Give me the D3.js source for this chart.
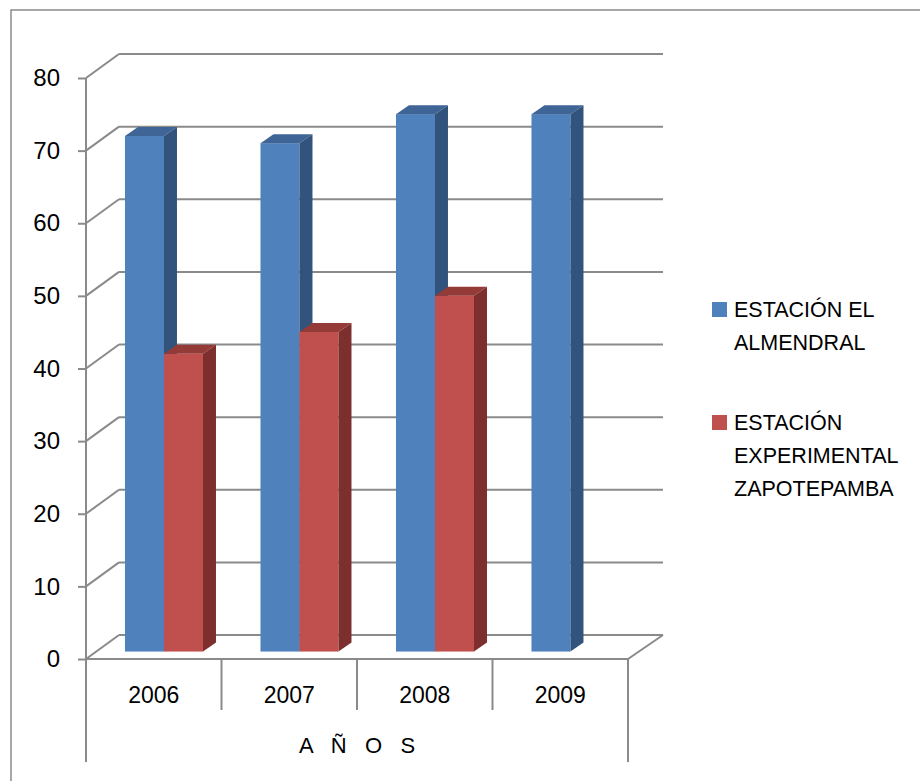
<!DOCTYPE html>
<html>
<head>
<meta charset="utf-8">
<script src="https://cdn.jsdelivr.net/npm/d3@7"></script>
<style>
  html, body { margin: 0; padding: 0; background: #fff; }
  svg { display: block; }
  text { font-family: "Liberation Sans", Arial, sans-serif; fill: #000; }
</style>
</head>
<body>
<svg id="chart" width="920" height="781"></svg>
<script>
// Data
const years = ["2006", "2007", "2008", "2009"];
const seriesNames = ["ESTACIÓN EL ALMENDRAL", "ESTACIÓN EXPERIMENTAL ZAPOTEPAMBA"];
const almendral = [71, 70, 74, 74];
const zapotepamba = [41, 44, 49, null];
const yTicks = [0, 10, 20, 30, 40, 50, 60, 70, 80];
const axisTitle = "A   Ñ   O   S";
const legendLines = [["ESTACIÓN EL", "ALMENDRAL"], ["ESTACIÓN", "EXPERIMENTAL", "ZAPOTEPAMBA"]];

const svg = d3.select("#chart");
const grid = "#8a8a8a";

// 3-D geometry: floor depth shift and bar depth
const wallDX = 33, wallDY = -24;
const barDepth = 0.31;                 // bars sit this far into the floor
const sideDX = 13, sideDY = -9;        // bar thickness

const x0 = d3.scaleBand().domain(years).range([86, 628]);
const x1 = d3.scaleBand().domain(seriesNames).range([0, 78]);
const yFront = d3.scaleLinear().domain([0, 80]).range([659, 78]);
const yBack = d3.scaleLinear().domain([0, 80]).range([659 + wallDY, 78 + wallDY]);
const yBar = d3.scaleLinear().domain([0, 80]).range([659 + wallDY * barDepth, 78 + wallDY * barDepth]);
const color = d3.scaleOrdinal().domain(seriesNames).range(["#4f81bd", "#c0504d"]);
const topColor = d3.scaleOrdinal().domain(seriesNames).range(["#3e6595", "#943a37"]);
const sideColor = d3.scaleOrdinal().domain(seriesNames).range(["#32537c", "#7c2f2d"]);

// Outer frame
svg.append("path").attr("d", "M11,781 V10 H920")
  .attr("fill", "none").attr("stroke", grid).attr("stroke-width", 1.5);

const backRight = x0.range()[1] + wallDX + 2;

// Back wall gridlines and left-wall diagonals
const walls = svg.append("g").attr("stroke", grid).attr("stroke-width", 2).attr("fill", "none");
yTicks.forEach(v => {
  walls.append("line")
    .attr("x1", x0.range()[0] + wallDX).attr("x2", backRight)
    .attr("y1", yBack(v)).attr("y2", yBack(v));
  walls.append("line")
    .attr("x1", x0.range()[0]).attr("y1", yFront(v))
    .attr("x2", x0.range()[0] + wallDX).attr("y2", yBack(v));
});
// Floor front edge and right diagonal
walls.append("line").attr("x1", x0.range()[0]).attr("x2", x0.range()[1])
  .attr("y1", yFront(0)).attr("y2", yFront(0));
walls.append("line").attr("x1", x0.range()[1]).attr("y1", yFront(0))
  .attr("x2", backRight).attr("y2", yBack(0));

// Front value axis
const yAxis = d3.axisLeft(yFront).tickValues(yTicks).tickSize(8).tickPadding(18);
const ya = svg.append("g").attr("transform", `translate(${x0.range()[0]},0)`).call(yAxis);
ya.select(".domain").remove();
ya.selectAll(".tick line").attr("stroke", grid).attr("stroke-width", 2);
ya.selectAll(".tick text").style("font-size", "24px").attr("font-family", null);

// Vertical axis line reaching into the category-title area
svg.append("line").attr("x1", x0.range()[0]).attr("x2", x0.range()[0])
  .attr("y1", yFront(80)).attr("y2", 762).attr("stroke", grid).attr("stroke-width", 2);
svg.append("line").attr("x1", x0.range()[1]).attr("x2", x0.range()[1])
  .attr("y1", yFront(0)).attr("y2", 762).attr("stroke", grid).attr("stroke-width", 2);
// Category dividers
years.slice(1).forEach(yr => {
  svg.append("line").attr("x1", x0(yr)).attr("x2", x0(yr))
    .attr("y1", yFront(0)).attr("y2", 710).attr("stroke", grid).attr("stroke-width", 2);
});
// Category labels
svg.append("g").selectAll("text").data(years).join("text")
  .attr("x", d => x0(d) + x0.bandwidth() / 2)
  .attr("y", 703)
  .attr("text-anchor", "middle")
  .style("font-size", "23px")
  .text(d => d);
svg.append("text")
  .attr("x", (x0.range()[0] + x0.range()[1]) / 2)
  .attr("y", 753)
  .attr("text-anchor", "middle")
  .style("font-size", "22px")
  .style("white-space", "pre")
  .text(axisTitle);

// Bars
const rows = [];
years.forEach((yr, i) => {
  [almendral, zapotepamba].forEach((arr, s) => {
    if (arr[i] != null) rows.push({ year: yr, series: seriesNames[s], value: arr[i] });
  });
});
const shift = wallDX * barDepth;
const bars = svg.append("g");
rows.forEach(d => {
  const xl = x0(d.year) + (x0.bandwidth() - x1.range()[1]) / 2 + shift + x1(d.series);
  const xr = xl + x1.bandwidth();
  const yt = yBar(d.value), yb = yBar(0);
  const g = bars.append("g");
  g.append("rect").attr("x", xl).attr("y", yt).attr("width", xr - xl).attr("height", yb - yt)
    .attr("fill", color(d.series));
  g.append("path")
    .attr("d", `M${xl},${yt} L${xl + sideDX},${yt + sideDY} L${xr + sideDX},${yt + sideDY} L${xr},${yt} Z`)
    .attr("fill", topColor(d.series));
  g.append("path")
    .attr("d", `M${xr},${yt} L${xr + sideDX},${yt + sideDY} L${xr + sideDX},${yb + sideDY} L${xr},${yb} Z`)
    .attr("fill", sideColor(d.series));
});

// Legend
const legendTop = [302, 415];
seriesNames.forEach((name, i) => {
  const g = svg.append("g");
  g.append("rect").attr("x", 712).attr("y", legendTop[i]).attr("width", 15).attr("height", 15)
    .attr("fill", color(name));
  legendLines[i].forEach((line, j) => {
    g.append("text").attr("x", 734).attr("y", legendTop[i] + 15 + j * 33)
      .style("font-size", "21.5px").text(line);
  });
});
</script>
</body>
</html>
